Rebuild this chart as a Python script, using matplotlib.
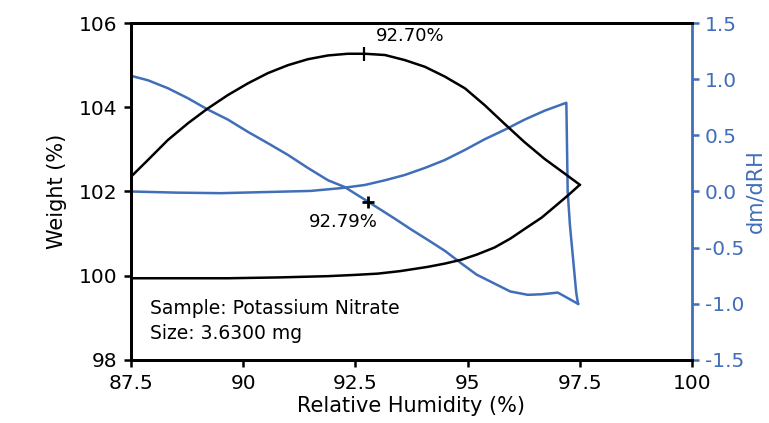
import numpy as np
import matplotlib
matplotlib.use("Agg")
import matplotlib.pyplot as plt

plt.rcParams['axes.unicode_minus'] = False

# weight (%) - sorption branch (RH going up)
rh_sorp = [87.5, 88.5, 89.66, 90.8, 91.89, 92.5, 93.0, 93.5, 94.11, 94.5, 94.86,
           95.2, 95.6, 95.95, 96.34, 96.65, 96.94, 97.25, 97.49]
wt_sorp = [99.94, 99.94, 99.94, 99.96, 99.99, 100.02, 100.05, 100.11, 100.21,
           100.29, 100.38, 100.50, 100.67, 100.88, 101.16, 101.38, 101.64,
           101.92, 102.15]

# weight (%) - desorption branch (RH going down)
rh_desorp = [97.5, 97.17, 96.72, 96.27, 95.83, 95.38, 94.94, 94.49, 94.05, 93.6,
             93.16, 92.71, 92.33, 91.89, 91.44, 91.0, 90.55, 90.11, 89.66, 89.21,
             88.77, 88.32, 87.88, 87.5]
wt_desorp = [102.16, 102.42, 102.77, 103.17, 103.60, 104.05, 104.45, 104.73,
             104.96, 105.12, 105.24, 105.27, 105.27, 105.23, 105.14, 105.0,
             104.81, 104.57, 104.29, 103.97, 103.62, 103.22, 102.75, 102.35]

# dm/dRH - sorption branch incl. the drop after the top step
rh_d1 = [87.5, 88.5, 89.5, 90.5, 91.5, 92.18, 92.71, 93.16, 93.6, 94.05, 94.49,
         94.94, 95.38, 95.83, 96.27, 96.72, 97.2, 97.23, 97.28, 97.35, 97.42, 97.46]
dm_d1 = [0.0, -0.01, -0.015, -0.005, 0.005, 0.03, 0.058, 0.10, 0.147, 0.21,
         0.28, 0.37, 0.465, 0.55, 0.64, 0.72, 0.79, 0.0, -0.3, -0.6, -0.9, -1.0]

# dm/dRH - desorption branch
rh_d2 = [97.46, 97.01, 96.65, 96.34, 95.95, 95.6, 95.2, 94.86, 94.5, 94.11,
         93.75, 93.37, 92.78, 92.26, 91.89, 91.44, 91.0, 90.55, 90.11, 89.66,
         89.21, 88.77, 88.32, 87.88, 87.5]
dm_d2 = [-1.0, -0.90, -0.915, -0.92, -0.89, -0.82, -0.74, -0.64, -0.53, -0.43,
         -0.34, -0.24, -0.09, 0.04, 0.10, 0.21, 0.325, 0.43, 0.53, 0.64,
         0.73, 0.83, 0.92, 0.99, 1.03]

# marked points
peak_rh, peak_wt = 92.70, 105.27
cross_rh, cross_wt = 92.79, 101.75

blue = '#406EB9'
fs = 14.5

fig = plt.figure(figsize=(7.69, 4.23), dpi=100)
ax = fig.add_axes([0.1703, 0.149, 0.7296, 0.7966])
ax2 = ax.twinx()

ax.plot(rh_sorp, wt_sorp, color='black', lw=1.8)
ax.plot(rh_desorp, wt_desorp, color='black', lw=1.8)
ax2.plot(rh_d1, dm_d1, color=blue, lw=1.8)
ax2.plot(rh_d2, dm_d2, color=blue, lw=1.8)

ax.set_zorder(ax2.get_zorder() + 1)
ax.patch.set_visible(False)

ax.plot([peak_rh], [peak_wt], marker='|', color='black', ms=10, mew=1.6)
ax.plot([cross_rh], [cross_wt], marker='+', color='black', ms=9, mew=2)
ax.text(peak_rh + 0.25, peak_wt + 0.2, '92.70%', fontsize=13, ha='left', va='bottom')
ax.text(cross_rh + 0.2, cross_wt - 0.25, '92.79%', fontsize=13, ha='right', va='top')

ax.text(87.92, 99.23, 'Sample: Potassium Nitrate', fontsize=13.5, va='center')
ax.text(87.92, 98.62, 'Size: 3.6300 mg', fontsize=13.5, va='center')

ax.set_xlim(87.5, 100)
ax.set_ylim(98, 106)
ax2.set_ylim(-1.5, 1.5)
ax.set_xticks([87.5, 90, 92.5, 95, 97.5, 100])
ax.set_xticklabels(['87.5', '90', '92.5', '95', '97.5', '100'])
ax.set_yticks([98, 100, 102, 104, 106])
ax2.set_yticks(np.arange(-1.5, 1.51, 0.5))
ax2.set_yticklabels(['%.1f' % v for v in np.arange(-1.5, 1.51, 0.5)])

ax.set_xlabel('Relative Humidity (%)', fontsize=15, labelpad=2)
ax.set_ylabel('Weight (%)', fontsize=15, labelpad=8)
ax2.set_ylabel('dm/dRH', fontsize=15, color=blue, labelpad=1)

ax.tick_params(labelsize=fs, width=1.8, length=5, direction='out', pad=5)
ax2.tick_params(labelsize=fs, width=1.8, length=5, colors=blue, pad=4)

for s in ['left', 'bottom', 'top']:
    ax.spines[s].set_linewidth(2)
    ax2.spines[s].set_linewidth(2)
ax.spines['right'].set_visible(False)
ax2.spines['right'].set_color(blue)
ax2.spines['right'].set_linewidth(2)

fig.savefig('out.png', dpi=100)
